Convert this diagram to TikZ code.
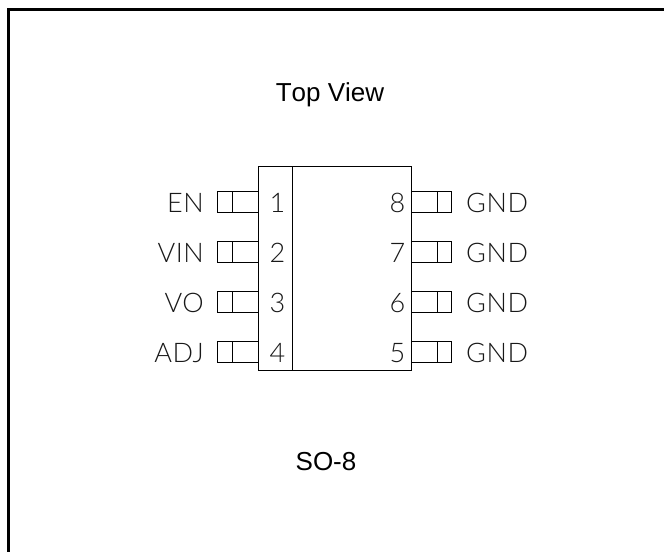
\documentclass[tikz,border=0pt]{standalone}
\usepackage{fontspec}
\setmainfont[Kerning=Off]{Liberation Sans}
\newfontfamily\cadfont[LetterSpace=2]{Lato Light}
\tikzset{
  frameline/.style={line width=3bp,line join=miter},
  partline/.style={line width=1bp,draw=black},
  titletext/.style={font=\fontsize{26bp}{28bp}\selectfont,inner sep=0pt,anchor=base,text=black},
  pinname/.style={font=\cadfont\fontsize{27bp}{28bp}\selectfont,inner sep=0pt,text=black!90},
  pinnum/.style={pinname,anchor=base}
}
\begin{document}
\begin{tikzpicture}[x=1bp,y=-1bp]
\useasboundingbox (0,0) rectangle (664,552);
\fill[white] (0,0) rectangle (664,552);
\draw[frameline] (8.5,552) -- (8.5,9.5) -- (664,9.5);
\node[titletext] (top) at (330,102) {Top View};
\node[titletext] (pkg) at (326,470) {SO-8};
\draw[partline] (258.3,166.7) rectangle (411.7,370.7);
\draw[partline] (292.3,166.7) -- (292.3,370.7);
\foreach \n/\m/\lab/\rlab/\yt/\yb in {1/8/EN/GND/191.7/212.7,2/7/VIN/GND/241.7/262.3,3/6/VO/GND/291.2/312.3,4/5/ADJ/GND/341.7/362.3}{
  \draw[partline] (258.3,\yt) -- (217.7,\yt) -- (217.7,\yb) -- (258.3,\yb);
  \draw[partline] (232.7,\yt) -- (232.7,\yb);
  \draw[partline] (411.7,\yt) -- (451.7,\yt) -- (451.7,\yb) -- (411.7,\yb);
  \draw[partline] (437.3,\yt) -- (437.3,\yb);
  \node[pinname,anchor=base east] (l\n) at (204,\yb) {\lab};
  \node[pinname,anchor=base west] (r\m) at (466,\yb) {\rlab};
  \node[pinnum] (p\n) at (277.5,\yb) {\n};
  \node[pinnum] (p\m) at (397.5,\yb) {\m};
}
\end{tikzpicture}
\end{document}
